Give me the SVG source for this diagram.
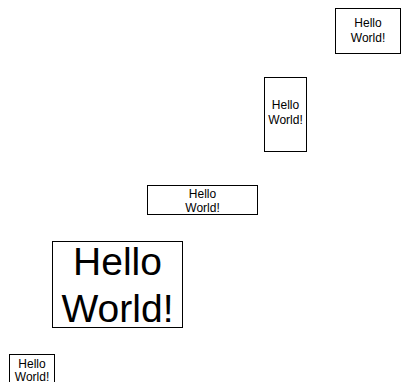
<svg xmlns="http://www.w3.org/2000/svg" width="401" height="382" viewBox="0 0 401 382">
<style>
rect.box{fill:#fff;stroke:#000;stroke-width:1}
text{font-family:"Liberation Sans",Arial,sans-serif;fill:#000;text-anchor:middle}
.s{font-size:12px}
.l{font-size:39px}
</style>
<rect width="401" height="382" fill="#fff"/>
<g id="connectors"></g>
<g id="node1">
<rect class="box" x="335.5" y="8.5" width="65" height="45"/>
<text class="s" x="368" y="27">Hello</text>
<text class="s" x="368" y="42">World!</text>
</g>
<g id="node2">
<rect class="box" x="264.5" y="77.5" width="42" height="74"/>
<text class="s" x="285.5" y="109">Hello</text>
<text class="s" x="285.5" y="124">World!</text>
</g>
<g id="node3">
<rect class="box" x="147.5" y="185.5" width="110" height="29"/>
<text class="s" x="202.5" y="197.5">Hello</text>
<text class="s" x="202.5" y="212">World!</text>
</g>
<g id="node4">
<rect class="box" x="52.5" y="241.5" width="130" height="86"/>
<text class="l" x="117.5" y="275">Hello</text>
<text class="l" x="117.5" y="321.5">World!</text>
</g>
<g id="node5">
<rect class="box" x="9.5" y="354.5" width="45" height="45"/>
<text class="s" x="32" y="367.5">Hello</text>
<text class="s" x="32" y="381">World!</text>
</g>
</svg>
